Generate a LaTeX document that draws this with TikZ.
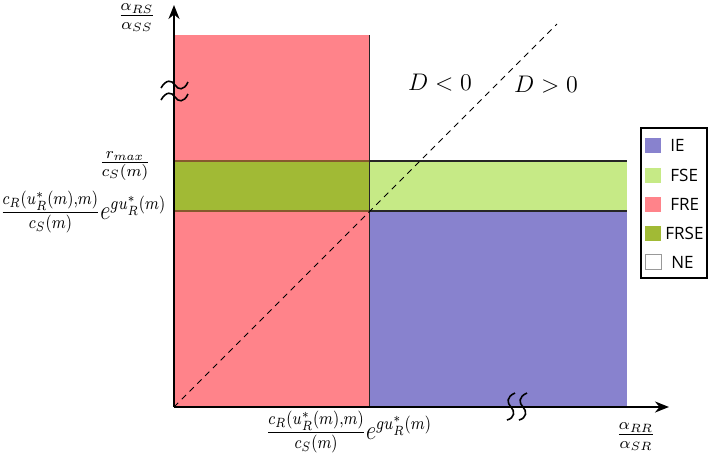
\documentclass[tikz,border=0pt]{standalone}
\usepackage{amsmath}
\usepackage{graphicx}
\usepackage{fontspec}
\newfontfamily\legfont{Open Sans}
\usetikzlibrary{arrows.meta}
\definecolor{frecol}{RGB}{255,131,138}
\definecolor{frsecol}{RGB}{161,186,53}
\definecolor{fsecol}{RGB}{198,234,134}
\definecolor{iecol}{RGB}{136,130,206}
\newcommand{\thrlab}{\scalebox{0.93}[1.12]{$\frac{c_R(u^*_R(m){,}m)}{c_S(m)}e^{gu^*_R(m)}$}}
\tikzset{
  axisline/.style={line width=1pt,-{Stealth[length=7pt,width=5.5pt]}},
  border/.style={line width=0.7pt,black!85},
  diag/.style={line width=0.5pt,dash pattern=on 3pt off 2.5pt},
  breakmark/.style={line width=0.8pt},
  lab/.style={inner sep=0pt,font=\fontsize{12}{14}\selectfont},
  swatch/.style={minimum width=8pt,minimum height=7.5pt,inner sep=0pt},
  legtext/.style={font=\legfont\fontsize{8.5}{10}\selectfont,inner sep=0pt,anchor=west}
}
\begin{document}
\begin{tikzpicture}[x=0.5pt,y=-0.5pt]
\useasboundingbox (0,0) rectangle (709,461);
% regions
\fill[frecol] (174,35) rectangle (370,407);
\fill[frsecol] (174,161) rectangle (370,211);
\fill[fsecol] (370,161) rectangle (627,211);
\fill[iecol] (370,211) rectangle (627,407);
% borders
\draw[line width=0.7pt,brown!70!black] (174,161) -- (370,161);
\draw[line width=0.7pt,brown!70!black] (174,211) -- (370,211);
\draw[border] (370,161) -- (627,161);
\draw[border] (370,211) -- (627,211);
\draw[border] (369.5,35) -- (369.5,407);
% diagonal
\coordinate (O) at (174,407);
\coordinate (dtop) at (557,24);
\draw[diag] (O) -- (dtop);
% axes
\coordinate (ytop) at (174,5);
\coordinate (xend) at (669,407);
\draw[axisline] (O) -- (ytop);
\draw[axisline] (O) -- (xend);
% y-axis break marks
\draw[breakmark] (161,88) .. controls (166,79) and (172,80) .. (175,85) .. controls (178,90) and (184,91) .. (188,82);
\draw[breakmark] (161,100) .. controls (166,91) and (172,92) .. (175,97) .. controls (178,102) and (184,103) .. (188,94);
% x-axis break marks
\draw[breakmark] (515,393) .. controls (506,397) and (507,403) .. (511,407) .. controls (515,411) and (515,418) .. (507,420);
\draw[breakmark] (527,393) .. controls (518,397) and (519,403) .. (523,407) .. controls (527,411) and (527,418) .. (519,420);
% labels
\node[lab] (ylab) at (137,18) {$\frac{\alpha_{RS}}{\alpha_{SS}}$};
\node[lab] (xlab) at (636,437) {$\frac{\alpha_{RR}}{\alpha_{SR}}$};
\node[lab] (rmax) at (125,166) {$\frac{r_{max}}{c_S(m)}$};
\node[lab,anchor=west] (ylow) at (0,212) {\thrlab};
\node[lab] (xlow) at (349,432) {\thrlab};
\node[lab,font=\fontsize{12.5}{15}\selectfont] (dneg) at (440,83) {$D<0$};
\node[lab,font=\fontsize{12.5}{15}\selectfont] (dpos) at (546,85) {$D>0$};
% legend
\node[draw,line width=0.7pt,inner sep=0pt,minimum width=33pt,minimum height=75pt] (legend) at (674,203) {};
\node[swatch,fill=iecol] (s1) at (653,145) {};
\node[swatch,fill=fsecol] (s2) at (653,175) {};
\node[swatch,fill=frecol] (s3) at (653,204) {};
\node[swatch,fill=frsecol] (s4) at (653,233) {};
\node[swatch,draw=black!40,line width=0.4pt] (s5) at (653,262) {};
\node[legtext] (t1) at (670,145) {IE};
\node[legtext] (t2) at (670,175) {FSE};
\node[legtext] (t3) at (670,204) {FRE};
\node[legtext] (t4) at (665,233) {FRSE};
\node[legtext] (t5) at (671,262) {NE};
\end{tikzpicture}
\end{document}
